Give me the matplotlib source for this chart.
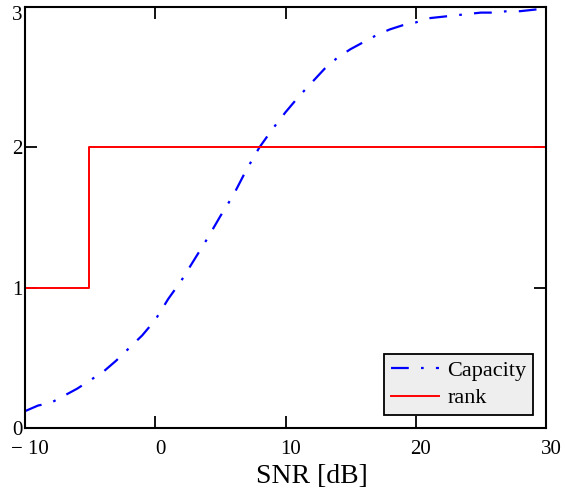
import matplotlib
matplotlib.use("Agg")
import matplotlib.pyplot as plt
import matplotlib.transforms as mtransforms
import numpy as np

snr_db = [-10, -9, -8, -7, -6, -5, -4, -3, -2, -1, 0, 1, 2, 3, 4, 5, 6, 7, 8, 9, 10,
          11, 12, 13, 14, 15, 16, 17, 18, 19, 20, 21, 22, 23, 24, 25, 26, 27, 28, 29, 30]
capacity = [0.12, 0.16, 0.18, 0.23, 0.28, 0.34, 0.40, 0.48, 0.57, 0.66, 0.77, 0.92, 1.05,
            1.20, 1.35, 1.51, 1.66, 1.84, 2.00, 2.13, 2.25, 2.36, 2.46, 2.56, 2.64, 2.70,
            2.75, 2.80, 2.84, 2.87, 2.89, 2.92, 2.93, 2.94, 2.95, 2.96, 2.96, 2.97, 2.97,
            2.98, 2.99]
rank_x = [-10, -5.1, -5.1, 30]
rank_y = [1, 1, 2, 2]
xticks = [-10, 0, 10, 20, 30]
xticklabels = ["\u2212 10", "0", "10", "20", "30"]
yticks = [0, 1, 2, 3]

plt.rcParams['font.family'] = ['Liberation Serif', 'DejaVu Serif']

fig = plt.figure(figsize=(5.66, 4.94), dpi=100)
ax = fig.add_axes([25/566, 1-428/494, 521/566, 421/494])

ax.plot(snr_db, capacity, color='#0000ff', lw=1.6, dashes=(8, 5.5, 1.2, 5.5), label='Capacity')
ax.plot(rank_x, rank_y, color='#ff0000', lw=1.4, label='rank')

ax.set_xlim(-10, 30)
ax.set_ylim(0, 3)
ax.set_xticks(xticks)
ax.set_xticklabels(xticklabels)
ax.set_yticks(yticks)
ax.tick_params(direction='in', length=8.6, width=1.3, top=True, right=True,
               labelsize=15, colors='black')
ax.tick_params(axis='x', pad=9)
ax.tick_params(axis='y', pad=2)
for s in ax.spines.values():
    s.set_linewidth(1.5)

shift = mtransforms.ScaledTranslation(5/100, 0, fig.dpi_scale_trans)
for lab in ax.get_xticklabels():
    lab.set_transform(lab.get_transform() + shift)

ylabs = ax.get_yticklabels()
ylabs[-1].set_transform(ylabs[-1].get_transform() +
                        mtransforms.ScaledTranslation(0, -6/100, fig.dpi_scale_trans))

fig.text(312/566, 1-483/494, 'SNR [dB]', fontsize=20, ha='center', va='baseline')

leg = ax.legend(loc='lower right', bbox_to_anchor=(0.975, 0.031), borderaxespad=0,
                fontsize=16, frameon=True, fancybox=False, facecolor='#eeeeee',
                edgecolor='black', framealpha=1, handlelength=2.2, handletextpad=0.35,
                labelspacing=0.3, borderpad=0.3)
leg.get_frame().set_linewidth(1.3)

fig.savefig('out.png', dpi=100)
